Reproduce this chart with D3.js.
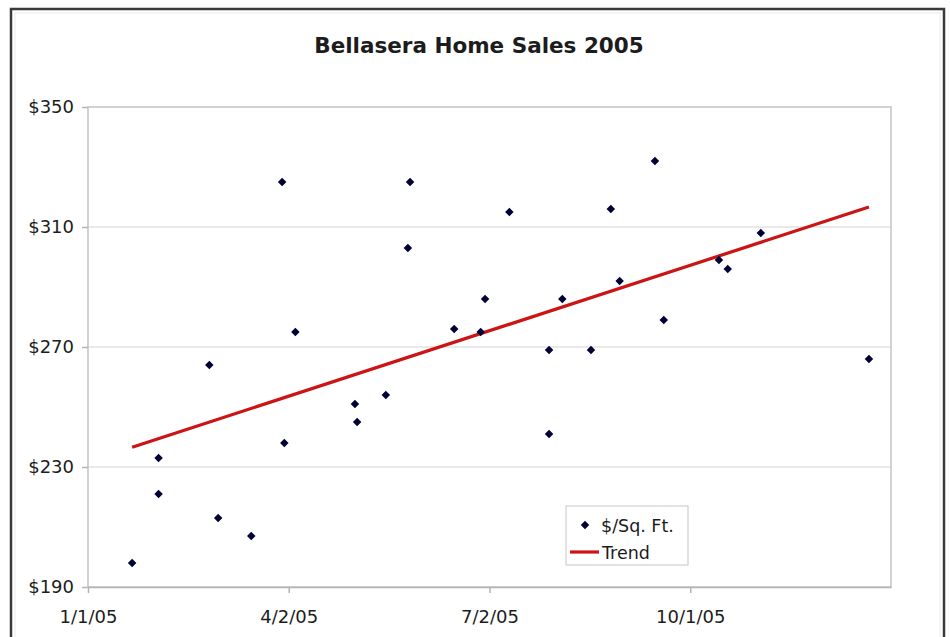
<html><head>
<meta charset="utf-8">
<title>Bellasera Home Sales 2005</title>
<script type="text/javascript" src="https://d3js.org/d3.v7.min.js"></script>
<style>
body{
  margin: 0px;
  background: #fff;
}
text {
  font-family: "DejaVu Sans", sans-serif;
  fill: #1c1c1c;
}
.grid line {
  stroke: #e2e2e2;
  stroke-width: 1.5px;
}
.axis path, .axis line {
  stroke: #b4b4b4;
  stroke-width: 1.5px;
}
</style>
</head>
<body>
<script>
var width = 950,
    height = 637;

// sale dates and $/sq.ft
var saleDates = ["2005-01-21","2005-02-02","2005-02-02","2005-02-25","2005-03-01","2005-03-16",
  "2005-03-30","2005-03-31","2005-04-05","2005-05-02","2005-05-03","2005-05-16",
  "2005-05-26","2005-05-27","2005-06-16","2005-06-28","2005-06-30","2005-07-11",
  "2005-07-29","2005-07-29","2005-08-04","2005-08-17","2005-08-26","2005-08-30",
  "2005-09-15","2005-09-19","2005-10-14","2005-10-18","2005-11-02","2005-12-21"];
var pricePerSqFt = [198,233,221,264,213,207,
  325,238,275,251,245,254,
  303,325,276,275,286,315,
  269,241,286,269,316,292,
  332,279,299,296,308,266];

var xTickDates = ["2005-01-01","2005-04-02","2005-07-02","2005-10-01"];
var xDomain = ["2005-01-01","2005-12-31"];
var yTicks = [190,230,270,310,350];
var legendLabels = ["$/Sq. Ft.","Trend"];

var parse = d3.timeParse("%Y-%m-%d");
var points = saleDates.map(function(d,i){ return {date: parse(d), value: pricePerSqFt[i]}; });

// least squares trend (same as excel linear trendline)
var xs = points.map(function(p){ return +p.date; });
var ys = points.map(function(p){ return p.value; });
var mx = d3.mean(xs), my = d3.mean(ys);
var sxy = d3.sum(xs, function(v,i){ return (v-mx)*(ys[i]-my); });
var sxx = d3.sum(xs, function(v){ return (v-mx)*(v-mx); });
var slope = sxy/sxx;
var ext = d3.extent(points, function(p){ return p.date; });
var trend = ext.map(function(d){ return {date: d, value: my + slope*(+d-mx)}; });

var pLeft = 88, pRight = 891, pTop = 107, pBottom = 587;

var x = d3.scaleTime().domain(xDomain.map(parse)).range([pLeft, pRight]);
var y = d3.scaleLinear().domain([190, 350]).range([pBottom, pTop]);

var svg = d3.select("body").append("svg")
    .attr("width", width)
    .attr("height", height);

svg.append("rect").attr("width", width).attr("height", height).attr("fill", "#fff");

// outer frame
svg.append("rect").attr("x", 15).attr("y", 13).attr("width", 925).attr("height", 640)
  .attr("fill", "none").attr("stroke", "#ececec").attr("stroke-width", 1);
svg.append("rect").attr("x", 11).attr("y", 9).attr("width", 933).attr("height", 650)
  .attr("fill", "none").attr("stroke", "#3a3a3a").attr("stroke-width", 2.5);

svg.append("text")
  .text("Bellasera Home Sales 2005")
  .attr("x", 479)
  .attr("y", 53)
  .attr("text-anchor", "middle")
  .attr("font-size", 21.5)
  .attr("font-weight", "bold");

// grid
svg.append("g").attr("class", "grid")
  .selectAll("line").data(yTicks.slice(1, -1)).enter().append("line")
  .attr("x1", pLeft).attr("x2", pRight)
  .attr("y1", function(d){ return y(d); })
  .attr("y2", function(d){ return y(d); });

// plot border
svg.append("rect")
  .attr("x", pLeft).attr("y", pTop).attr("width", pRight-pLeft).attr("height", pBottom-pTop)
  .attr("fill", "none").attr("stroke", "#c4c4c4").attr("stroke-width", 1.5);

var yAxis = svg.append("g").attr("class", "axis")
  .attr("transform", "translate(" + pLeft + ",0)")
  .call(d3.axisLeft(y).tickValues(yTicks).tickSize(6).tickPadding(8)
    .tickFormat(function(d){ return "$" + d; }));
yAxis.select(".domain").remove();
yAxis.selectAll("text").attr("font-size", 18).attr("font-family", null).attr("fill", "#1c1c1c");

var xAxis = svg.append("g").attr("class", "axis")
  .attr("transform", "translate(0," + pBottom + ")")
  .call(d3.axisBottom(x).tickValues(xTickDates.map(parse)).tickSize(6).tickSizeOuter(0).tickPadding(17)
    .tickFormat(d3.timeFormat("%-m/%-d/%y")));
xAxis.select(".domain").attr("stroke", "#a8a8a8");
xAxis.selectAll("text").attr("font-size", 18).attr("font-family", null).attr("fill", "#1c1c1c");

// trend
var line = d3.line()
  .x(function(d){ return x(d.date); })
  .y(function(d){ return y(d.value); });
svg.append("path").datum(trend)
  .attr("d", line)
  .attr("fill", "none")
  .attr("stroke", "#cc1414")
  .attr("stroke-width", 3.2);

// points
var diamond = d3.symbol(d3.symbolSquare).size(36);
svg.append("g").selectAll("path").data(points).enter().append("path")
  .attr("d", diamond)
  .attr("transform", function(d){ return "translate(" + x(d.date) + "," + y(d.value) + ") rotate(45)"; })
  .attr("fill", "#000036");

// legend
var lg = svg.append("g");
lg.append("rect").attr("x", 566).attr("y", 506).attr("width", 122).attr("height", 59)
  .attr("fill", "#fff").attr("stroke", "#cfcfcf").attr("stroke-width", 1.2);
lg.append("path").attr("d", diamond)
  .attr("transform", "translate(585,525) rotate(45)")
  .attr("fill", "#000036");
lg.append("line").attr("x1", 570).attr("x2", 599).attr("y1", 552).attr("y2", 552)
  .attr("stroke", "#cc1414").attr("stroke-width", 3.2);
lg.selectAll("text.lab").data(legendLabels).enter().append("text")
  .attr("class", "lab")
  .text(function(d){ return d; })
  .attr("x", function(d,i){ return i == 0 ? 601 : 602; })
  .attr("y", function(d,i){ return i == 0 ? 532 : 559; })
  .attr("font-size", 17.5);

</script>
</body></html>
